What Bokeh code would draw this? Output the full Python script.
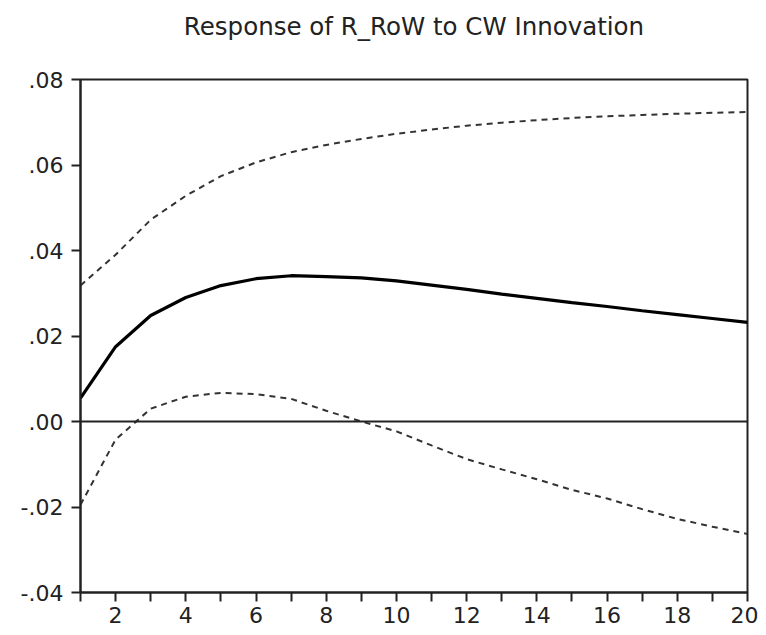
from bokeh.plotting import figure
from bokeh.models import FixedTicker, Span, Range1d
from bokeh.embed import file_html
from bokeh.resources import INLINE

periods = list(range(1, 21))
response = [0.0055, 0.0175, 0.0248, 0.0290, 0.0318, 0.0334, 0.0341, 0.0339, 0.0336, 0.0329,
            0.0319, 0.0309, 0.0298, 0.0288, 0.0278, 0.0269, 0.0259, 0.0250, 0.0241, 0.0232]
upper = [0.0318, 0.0390, 0.0472, 0.0528, 0.0574, 0.0606, 0.0630, 0.0647, 0.0661, 0.0673,
         0.0683, 0.0692, 0.0699, 0.0705, 0.0710, 0.0714, 0.0717, 0.0720, 0.0722, 0.0724]
lower = [-0.0195, -0.0042, 0.0030, 0.0058, 0.0067, 0.0064, 0.0053, 0.0025, 0.0000, -0.0023,
         -0.0056, -0.0088, -0.0112, -0.0135, -0.0160, -0.0180, -0.0205, -0.0228, -0.0246, -0.0263]

y_ticks = [-0.04, -0.02, 0.0, 0.02, 0.04, 0.06, 0.08]
y_labels = ["-.04", "-.02", ".00", ".02", ".04", ".06", ".08"]
x_major = [2, 4, 6, 8, 10, 12, 14, 16, 18, 20]
x_minor = [1, 3, 5, 7, 9, 11, 13, 15, 17, 19]
title_text = "Response of R_RoW to CW Innovation"

FONT = "DejaVu Sans"
INK = "#222222"

p = figure(width=758, height=627, output_backend="svg", toolbar_location=None,
           x_range=Range1d(1, 20), y_range=Range1d(-0.04, 0.08),
           min_border_left=80, min_border_right=11, min_border_top=79, min_border_bottom=35)

p.title.text = title_text
p.title.align = "center"
p.title.text_font = FONT
p.title.text_font_size = "24.5px"
p.title.text_font_style = "normal"
p.title.text_color = INK
p.title.standoff = 0
p.title.padding = dict(left=0, right=0, top=0, bottom=39)

p.xgrid.visible = False
p.ygrid.visible = False
p.outline_line_color = INK
p.outline_line_width = 2
p.background_fill_color = "white"
p.border_fill_color = "white"

p.xaxis.ticker = FixedTicker(ticks=x_major, minor_ticks=x_minor)
p.yaxis.ticker = FixedTicker(ticks=y_ticks)
p.yaxis.major_label_overrides = {t: l for t, l in zip(y_ticks, y_labels)}

for ax in (p.xaxis[0], p.yaxis[0]):
    ax.axis_line_color = INK
    ax.axis_line_width = 2
    ax.major_tick_line_color = INK
    ax.major_tick_line_width = 2
    ax.major_tick_in = 0
    ax.major_tick_out = 9
    ax.major_label_text_font = FONT
    ax.major_label_text_font_size = "22px"
    ax.major_label_text_color = INK

p.xaxis.minor_tick_in = 0
p.xaxis.minor_tick_out = 9
p.xaxis.minor_tick_line_color = INK
p.xaxis.minor_tick_line_width = 2
p.yaxis.minor_tick_line_color = None
p.xaxis.major_label_standoff = 5
p.yaxis.major_label_standoff = 8

p.add_layout(Span(location=0, dimension="width", line_color=INK, line_width=2))

p.line(periods, upper, line_color="#333333", line_width=2, line_dash="6 5")
p.line(periods, lower, line_color="#333333", line_width=2, line_dash="6 5")
p.line(periods, response, line_color="black", line_width=3.2)

open("out.html", "w").write(file_html(p, INLINE))
